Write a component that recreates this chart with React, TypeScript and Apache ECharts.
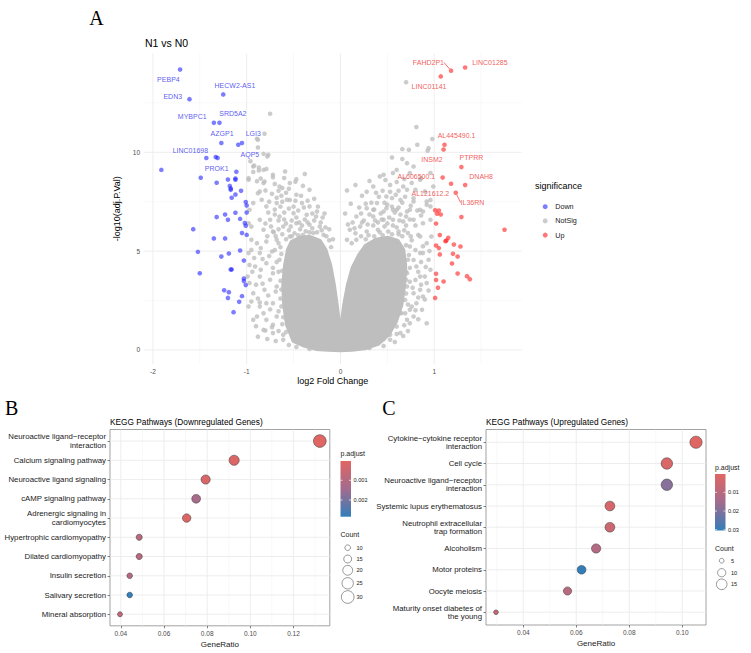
import React, { useEffect, useRef } from 'react';
import * as echarts from 'echarts';

const FONT = '"Liberation Sans", Arial, Helvetica, sans-serif';
const SERIF = '"Liberation Serif", "Times New Roman", serif';

// ---------------- Panel A : volcano ----------------
const downLabeledNames = ['PEBP4', 'EDN3', 'HECW2-AS1', 'MYBPC1', 'SRD5A2', 'AZGP1', 'LGI3', 'AQP5', 'LINC01698', 'PROK1'];
const downLabeledPoints: [number, number][] = [
  [-1.71, 14.19], [-1.61, 12.69], [-1.25, 12.93], [-1.35, 11.49], [-1.29, 11.49],
  [-1.27, 10.47], [-1.05, 10.47], [-1.09, 10.38], [-1.43, 9.71], [-1.33, 9.76],
];
const downOtherPoints: [number, number][] = [
  [-1.31, 9.71], [-1.91, 9.11], [-1.49, 8.71], [-1.32, 8.46], [-1.11, 9.01], [-1.20, 8.62], [-1.12, 8.67], [-1.12, 8.61],
  [-1.18, 8.30], [-1.17, 8.17], [-1.17, 8.10], [-1.06, 8.05], [-1.12, 7.86], [-1.16, 7.70], [-1.01, 7.48], [-1.00, 7.31],
  [-1.00, 6.95], [-1.12, 6.94], [-1.23, 6.85], [-1.32, 6.72], [-1.20, 6.58], [-1.07, 6.63], [-1.02, 6.42], [-1.01, 6.28],
  [-1.57, 6.11], [-1.05, 5.91], [-1.00, 5.82], [-1.35, 5.64], [-1.23, 5.64], [-1.07, 5.03], [-1.52, 4.96], [-1.19, 4.88],
  [-1.27, 4.72], [-1.03, 4.52], [-1.17, 4.07], [-1.16, 4.07], [-1.50, 3.88], [-1.03, 3.61], [-1.03, 3.48], [-1.01, 3.28],
  [-1.24, 3.02], [-1.19, 2.92], [-1.05, 2.72], [-1.20, 2.63], [-1.08, 2.43], [-1.14, 1.91],
];
const upLabeledNames = ['FAHD2P1', 'LINC01285', 'LINC01141', 'AL445490.1', 'INSM2', 'PTPRR', 'AL606500.1', 'DNAH8', 'AL121612.2', 'IL36RN'];
const upLabeledPoints: [number, number][] = [
  [1.18, 14.13], [1.33, 14.29], [1.07, 13.84], [1.11, 10.38], [1.10, 10.14],
  [1.29, 9.25], [1.09, 8.72], [1.33, 8.34], [1.18, 8.41], [1.23, 7.95],
];
const upOtherPoints: [number, number][] = [
  [1.01, 7.07], [1.05, 7.05], [1.03, 6.89], [1.07, 6.85], [1.29, 6.72], [1.75, 6.08], [1.02, 6.39], [1.06, 5.81],
  [1.15, 5.67], [1.13, 5.53], [1.12, 5.50], [1.21, 5.33], [1.28, 5.23], [1.02, 5.28], [1.05, 5.15], [1.06, 4.83],
  [1.20, 4.86], [1.25, 4.72], [1.19, 4.37], [1.25, 3.86], [1.02, 3.85], [1.35, 3.73], [1.38, 3.58], [1.02, 3.54],
  [1.10, 3.46], [1.04, 3.15], [1.01, 2.63],
];
const notSigPoints: [number, number][] = [
  [-0.81, 10.94], [-0.89, 10.68], [-0.77, 9.87], [-0.93, 9.28], [-0.87, 9.08], [-0.59, 9.03], [-0.72, 8.86], [-0.54, 8.44],
  [-0.33, 8.10], [-0.65, 8.27], [-0.81, 8.52], [-0.47, 7.85], [-0.63, 7.80], [-0.73, 7.90], [-0.86, 8.02], [-0.93, 7.43],
  [-0.79, 7.26], [-0.68, 7.43], [-0.54, 7.59], [-0.41, 7.43], [-0.33, 7.26], [-0.25, 7.00], [-0.36, 6.84], [-0.50, 6.92],
  [-0.65, 6.75], [-0.75, 6.58], [-0.86, 6.58], [-0.95, 6.24], [-0.82, 6.08], [-0.72, 5.99], [-0.61, 6.24], [-0.47, 6.41],
  [-0.33, 6.33], [-0.22, 6.24], [-0.18, 5.82], [-0.29, 5.91], [-0.40, 5.82], [-0.54, 5.74], [-0.68, 5.57], [-0.79, 5.48],
  [-0.89, 5.40], [-0.98, 4.90], [-0.86, 4.90], [-0.73, 4.98], [-0.65, 4.56], [-0.79, 4.39], [-0.91, 4.22], [-0.99, 3.71],
  [-0.86, 3.71], [-0.72, 3.88], [-0.68, 3.21], [-0.81, 3.04], [-0.93, 2.87], [-0.98, 2.19], [-0.86, 2.19], [-0.72, 2.36],
  [-0.93, 1.52], [-0.79, 1.52], [-0.68, 1.69], [-0.82, 1.01], [-0.72, 0.85], [-0.61, 0.51],
  [0.81, 11.28], [0.98, 10.67], [0.82, 10.38], [0.73, 10.13], [0.55, 9.74], [0.66, 9.66], [0.60, 9.11], [0.46, 8.86],
  [0.74, 8.95], [0.85, 8.61], [0.23, 7.80], [0.07, 8.07], [0.35, 8.27], [0.53, 8.35], [0.67, 8.27], [0.80, 8.10],
  [0.90, 8.02], [0.49, 7.76], [0.64, 7.59], [0.78, 7.51], [0.39, 7.43], [0.28, 7.17], [0.49, 7.17], [0.60, 7.09],
  [0.71, 7.00], [0.85, 7.09], [0.92, 7.34], [0.17, 6.75], [0.35, 6.75], [0.46, 6.58], [0.56, 6.58], [0.67, 6.50],
  [0.78, 6.58], [0.88, 6.41], [0.10, 6.08], [0.21, 6.24], [0.28, 5.99], [0.40, 6.08], [0.51, 5.99], [0.62, 5.99],
  [0.72, 5.91], [0.83, 5.82], [0.07, 5.57], [0.17, 5.57], [0.92, 5.40], [0.74, 5.23], [0.85, 4.90], [0.72, 4.56],
  [0.81, 4.22], [0.71, 3.88], [0.80, 3.54], [0.90, 3.71], [0.71, 3.21], [0.78, 2.87], [0.85, 3.04], [0.69, 2.53],
  [0.76, 2.19], [0.64, 1.86], [0.71, 1.52], [0.60, 1.18], [0.64, 0.85], [0.53, 0.51],
  [-0.96, 9.55], [-0.93, 9.00], [-0.82, 9.11], [-0.62, 8.19], [-0.98, 8.61], [-0.89, 8.54], [-0.82, 8.44], [-0.80, 8.07],
  [-0.48, 8.51], [-0.88, 7.93], [-0.97, 7.09], [-0.98, 6.41], [-0.95, 5.57], [-0.95, 5.06], [-0.97, 4.30], [-0.97, 3.38],
  [-0.88, 0.67], [-0.80, 0.98],
  [-0.75, 11.95], [-0.88, 10.63], [-0.88, 10.24], [-0.82, 9.92], [-0.78, 9.79], [-0.92, 9.33], [-0.87, 9.23], [-0.79, 9.16],
  [-0.98, 8.69], [-0.85, 8.67], [-0.72, 8.74], [-0.47, 8.64],
  [0.70, 13.55], [0.94, 10.21], [0.93, 10.08], [0.66, 10.16], [0.71, 9.45], [0.78, 9.28], [0.86, 8.69], [0.96, 8.95],
  [0.42, 8.78], [0.56, 8.95], [0.71, 8.10], [0.99, 8.27], [0.55, 7.68], [0.96, 7.59], [0.35, 7.09], [0.46, 7.00],
  [0.56, 7.09], [0.74, 7.09], [0.88, 7.00],
  [0.88, 4.90], [0.94, 4.56], [0.96, 4.05], [0.85, 3.71], [0.92, 3.38], [0.88, 2.70], [0.81, 2.36], [0.87, 2.03],
  [0.78, 1.69], [0.74, 1.35], [0.92, 1.35], [0.96, 6.58], [0.97, 5.74], [0.85, 5.74], [0.96, 7.26], [0.92, 7.51], [0.78, 7.68],
  [-0.89, 1.69], [-0.72, 1.27], [-0.61, 0.76], [-0.86, 2.40], [-0.79, 2.36], [0.65, 1.86], [0.74, 2.03], [0.46, 0.54],
  [0.53, 0.76], [0.35, 0.42], [-0.40, 0.34], [0.42, 0.67],
  [-0.62, 5.85], [-0.55, 6.05], [-0.49, 5.90], [-0.43, 6.10], [-0.37, 6.00], [-0.30, 6.15], [-0.25, 5.95], [-0.20, 6.05],
  [-0.15, 5.75], [-0.58, 6.40], [-0.52, 6.55], [-0.44, 6.45], [-0.38, 6.60], [-0.28, 6.55], [-0.21, 6.45], [-0.60, 6.95],
  [-0.55, 7.15], [-0.45, 7.05], [-0.39, 7.20], [-0.30, 6.90], [-0.70, 7.10], [-0.62, 7.50], [-0.48, 7.55], [-0.42, 7.80],
  [-0.58, 7.95], [-0.68, 7.70], [-0.74, 6.25], [-0.69, 5.75], [-0.66, 6.55], [-0.12, 5.55], [-0.10, 5.20],
  [-0.64, 5.20], [-0.70, 5.05], [-0.76, 4.75], [-0.68, 4.45], [-0.72, 4.15], [-0.66, 3.95], [-0.75, 3.55], [-0.64, 3.50],
  [-0.69, 2.95], [-0.77, 2.75], [-0.64, 2.60], [-0.75, 2.05], [-0.66, 1.95], [-0.62, 1.30], [-0.73, 1.15], [-0.66, 0.95],
  [-0.55, 0.25], [-0.83, 4.60], [-0.85, 4.05], [-0.90, 3.30], [-0.83, 3.35], [-0.88, 2.60], [-0.82, 1.85], [-0.90, 1.20],
  [-0.78, 0.55], [-0.69, 0.45], [-0.85, 5.15], [-0.78, 5.75], [-0.92, 4.65], [-0.95, 2.45], [-0.94, 3.95], [-0.63, 4.85],
  [-0.62, 4.00], [-0.63, 3.05], [-0.63, 2.20], [-0.61, 1.65], [-0.58, 0.90], [-0.47, 0.15], [-0.33, 0.05],
  [0.12, 5.40], [0.16, 5.90], [0.22, 5.75], [0.30, 5.80], [0.35, 6.30], [0.42, 5.95], [0.47, 6.25], [0.55, 5.85],
  [0.60, 6.20], [0.66, 5.75], [0.70, 6.30], [0.25, 6.55], [0.31, 6.85], [0.40, 6.45], [0.43, 6.90], [0.52, 6.70],
  [0.58, 6.95], [0.64, 6.85], [0.70, 6.75], [0.33, 7.45], [0.41, 7.75], [0.50, 7.35], [0.59, 7.85], [0.66, 7.45],
  [0.75, 7.30], [0.45, 8.05], [0.60, 8.50], [0.68, 8.65], [0.20, 7.20], [0.13, 6.45], [0.05, 6.90], [0.28, 8.00],
  [0.70, 5.30], [0.76, 5.55], [0.80, 5.05], [0.73, 4.80], [0.78, 4.55], [0.74, 4.15], [0.86, 4.45], [0.83, 3.95],
  [0.74, 3.45], [0.77, 3.15], [0.86, 3.30], [0.70, 2.85], [0.83, 2.65], [0.72, 2.30], [0.80, 2.00], [0.69, 1.85],
  [0.83, 1.55], [0.68, 1.25], [0.72, 0.95], [0.58, 0.40], [0.46, 0.20], [0.31, 0.10], [0.90, 2.55], [0.94, 3.00],
  [0.91, 4.20], [0.88, 5.25], [0.95, 5.00], [0.70, 3.95], [0.70, 3.55], [0.67, 0.70], [0.60, 0.80],
  [-0.66, 6.10], [-0.60, 6.60], [-0.53, 6.25], [-0.47, 6.70], [-0.41, 6.30], [-0.35, 6.45], [-0.26, 6.75], [-0.19, 6.70],
  [-0.16, 6.20], [-0.24, 7.25], [-0.35, 7.55], [-0.50, 7.25], [-0.57, 7.60], [-0.64, 7.25], [-0.70, 6.85], [-0.77, 6.95],
  [-0.76, 7.50], [-0.66, 8.05], [-0.55, 8.15], [-0.40, 8.30], [-0.28, 7.65], [-0.52, 5.75], [-0.45, 5.80], [-0.33, 5.95],
  [-0.58, 5.60], [-0.66, 5.40], [-0.71, 5.95], [-0.80, 6.40], [-0.84, 7.60], [-0.70, 8.40], [-0.60, 8.70], [-0.38, 8.90],
  [-0.17, 6.90], [-0.12, 6.10], [-0.08, 5.60],
  [0.15, 6.15], [0.23, 6.45], [0.29, 6.35], [0.37, 6.55], [0.44, 6.60], [0.50, 6.40], [0.56, 6.30], [0.63, 6.55],
  [0.68, 6.05], [0.74, 6.60], [0.80, 6.30], [0.75, 5.75], [0.62, 5.85], [0.45, 5.80], [0.36, 5.75], [0.27, 5.60],
  [0.22, 6.90], [0.27, 7.40], [0.36, 7.10], [0.47, 7.45], [0.55, 7.25], [0.62, 7.20], [0.69, 7.75], [0.53, 8.00],
  [0.38, 7.95], [0.31, 8.55], [0.48, 8.60], [0.62, 8.05], [0.76, 8.45], [0.82, 7.05], [0.86, 6.80], [0.11, 7.40],
  [0.16, 8.35], [0.08, 6.35],
];
// outline of the region where the grey points overlap completely
const notSigDenseOutline: [number, number][] = [
  [-0.50, 0.45], [-0.57, 1.27], [-0.60, 2.28], [-0.61, 3.29], [-0.59, 4.30], [-0.56, 5.06], [-0.52, 5.47], [-0.43, 5.67],
  [-0.33, 5.72], [-0.22, 5.52], [-0.16, 5.06], [-0.11, 4.30], [-0.07, 3.29], [-0.04, 2.28], [-0.02, 1.52], [0.00, 0.96],
  [0.02, 1.52], [0.04, 2.28], [0.08, 3.29], [0.13, 4.15], [0.20, 4.81], [0.27, 5.27], [0.38, 5.57], [0.51, 5.67],
  [0.61, 5.52], [0.67, 5.06], [0.69, 4.30], [0.68, 3.29], [0.65, 2.28], [0.59, 1.42], [0.51, 0.76], [0.40, 0.30],
  [0.26, 0.08], [0.12, 0.00], [0.00, -0.02], [-0.13, 0.00], [-0.26, 0.05], [-0.38, 0.20],
];
const volcanoXTicks = [-2, -1, 0, 1];
const volcanoXMinor = [-1.5, -0.5, 0.5, 1.5];
const volcanoYTicks = [0, 5, 10];
const volcanoYMinor = [2.5, 7.5, 12.5];

// ---------------- Panel B : KEGG down ----------------
const downTerms = [
  'Neuroactive ligand\u2212receptor\ninteraction', 'Calcium signaling pathway', 'Neuroactive ligand signaling',
  'cAMP signaling pathway', 'Adrenergic signaling in\ncardiomyocytes', 'Hypertrophic cardiomyopathy',
  'Dilated cardiomyopathy', 'Insulin secretion', 'Salivary secretion', 'Mineral absorption',
];
const downGeneRatio = [0.1322, 0.0925, 0.0793, 0.0749, 0.0705, 0.0485, 0.0485, 0.0441, 0.0441, 0.0396];
const downCount = [30, 21, 18, 17, 16, 11, 11, 10, 10, 9];
const downPadj = [0.00002, 0.0001, 0.0002, 0.0013, 0.0001, 0.0009, 0.0009, 0.001, 0.00285, 0.0007];
const downRatioTicks = [0.04, 0.06, 0.08, 0.1, 0.12];
const downRatioMinor = [0.05, 0.07, 0.09, 0.11, 0.13];
const downPadjBreaks = [0.001, 0.002];
const downCountBreaks = [10, 15, 20, 25, 30];

// ---------------- Panel C : KEGG up ----------------
const upTerms = [
  'Cytokine\u2212cytokine receptor\ninteraction', 'Cell cycle', 'Neuroactive ligand\u2212receptor\ninteraction',
  'Systemic lupus erythematosus', 'Neutrophil extracellular\ntrap formation', 'Alcoholism', 'Motor proteins',
  'Oocyte meiosis', 'Maturity onset diabetes of\nthe young',
];
const upGeneRatio = [0.1052, 0.0942, 0.0942, 0.0727, 0.0727, 0.0675, 0.062, 0.0567, 0.0297];
const upCount = [19, 17, 17, 13, 13, 12, 11, 10, 5];
const upPadj = [0.0002, 0.002, 0.019, 0.003, 0.005, 0.011, 0.0304, 0.010, 0.007];
const upRatioTicks = [0.04, 0.06, 0.08, 0.1];
const upRatioMinor = [0.03, 0.05, 0.07, 0.09];
const upPadjBreaks = [0.01, 0.02, 0.03];
const upCountBreaks = [5, 10, 15];

// ---------------- layout / style (not data) ----------------
const downLabelOffsets: [number, number][] = [
  [-11.7, 10], [-16.7, -2.3], [11.7, -9], [-21.6, -6], [13.4, -9], [0.7, -9.3], [11.3, -9.3], [11.7, 10], [-16, -7.3], [1, 11],
];
const upLabelOffsets: [number, number][] = [
  [-22.7, -8.3], [24.7, -5], [-11.7, 9.6], [12, -9], [-11.6, 9.6], [10, -10], [-26.3, -1], [16, -9], [-20.7, 10], [16.7, 9.7],
];
const leaderLineGenes = ['FAHD2P1', 'IL36RN'];
const GRAD = ['#e06663', '#a26b8e', '#327eba'];
const BLUE = 'rgba(30,30,255,0.72)';
const RED = 'rgba(255,20,20,0.72)';
const GREY = '#BEBEBE';

const expand = (vals: number[]) => {
  const mn = Math.min(...vals), mx = Math.max(...vals), s = mx - mn;
  return [mn - 0.05 * s, mx + 0.05 * s];
};
const sizeScale = (counts: number[], dMin: number, dMax: number) => {
  const cMin = Math.min(...counts), cMax = Math.max(...counts);
  return (c: number) => Math.sqrt(dMin * dMin + ((c - cMin) / (cMax - cMin)) * (dMax * dMax - dMin * dMin));
};

// gridlines drawn through the axes' own scales (custom series)
function gridSeries(xi: number, yi: number, xMajor: number[], xMinor: number[], yMajor: number[], yMinor: number[],
  xRef: number, yRef: number) {
  const data = [
    ...xMinor.map((v) => [v, yRef, 0]), ...yMinor.map((v) => [xRef, v, 2]),
    ...xMajor.map((v) => [v, yRef, 1]), ...yMajor.map((v) => [xRef, v, 3]),
  ];
  return {
    type: 'custom', xAxisIndex: xi, yAxisIndex: yi, z: 0, silent: true, clip: false, data,
    renderItem: (params: any, api: any) => {
      const kind = api.value(2);
      const cs = params.coordSys;
      const p = api.coord([api.value(0), api.value(1)]);
      const style = kind % 2 === 1 ? { stroke: '#EBEBEB', lineWidth: 0.9 } : { stroke: '#F3F3F3', lineWidth: 0.6 };
      const shape = kind < 2
        ? { x1: p[0], y1: cs.y, x2: p[0], y2: cs.y + cs.height }
        : { x1: cs.x, y1: p[1], x2: cs.x + cs.width, y2: p[1] };
      return { type: 'line', shape, style };
    },
  };
}

function pointSeries(name: string, labeledNames: string[], labeled: [number, number][], others: [number, number][],
  offsets: [number, number][], color: string, textColor: string) {
  return {
    name, type: 'scatter', xAxisIndex: 0, yAxisIndex: 0, z: 4, symbolSize: 4.6,
    itemStyle: { color },
    emphasis: { disabled: true },
    label: { show: false, position: 'inside', formatter: '{b}', fontSize: 7, fontFamily: FONT, color: textColor },
    labelLayout: (p: any) => {
      const o = offsets[p.dataIndex];
      return o ? { dx: o[0], dy: o[1] } : {};
    },
    data: [
      ...labeled.map((v, i) => ({
        value: v, name: labeledNames[i], label: { show: true },
        labelLine: leaderLineGenes.includes(labeledNames[i])
          ? { show: true, length2: 0, lineStyle: { color: textColor, width: 0.7 } } : { show: false },
      })),
      ...others.map((v) => ({ value: v })),
    ],
  };
}

function padjLegend(o: {
  left: number; titleY: number; barTop: number; barH: number; barW: number; min: number; max: number;
  breaks: number[]; fmt: (v: number) => string; countTitleY: number; rows: number[]; countBreaks: number[];
  size: (c: number) => number; circleX: number; countLabelX: number;
}) {
  const els: any[] = [];
  const txt = (x: number, y: number, text: string, size: number) => ({
    type: 'text', x, y, silent: true,
    style: { text, fontSize: size, fontFamily: FONT, fill: '#1A1A1A', align: 'left', verticalAlign: 'middle' },
  });
  els.push(txt(o.left, o.titleY, 'p.adjust', 7));
  els.push({
    type: 'rect', silent: true, shape: { x: o.left, y: o.barTop, width: o.barW, height: o.barH },
    style: {
      fill: new echarts.graphic.LinearGradient(0, 0, 0, 1, [
        { offset: 0, color: GRAD[0] }, { offset: 0.5, color: GRAD[1] }, { offset: 1, color: GRAD[2] },
      ]),
    },
  });
  o.breaks.forEach((b) => {
    const y = o.barTop + ((b - o.min) / (o.max - o.min)) * o.barH;
    els.push({ type: 'line', silent: true, shape: { x1: o.left, y1: y, x2: o.left + 2, y2: y }, style: { stroke: '#fff', lineWidth: 0.7 } });
    els.push({ type: 'line', silent: true, shape: { x1: o.left + o.barW - 2, y1: y, x2: o.left + o.barW, y2: y }, style: { stroke: '#fff', lineWidth: 0.7 } });
    els.push(txt(o.left + o.barW + 2.5, y, o.fmt(b), 5.6));
  });
  els.push(txt(o.left, o.countTitleY, 'Count', 7));
  o.countBreaks.forEach((c, i) => {
    els.push({
      type: 'circle', silent: true, shape: { cx: o.circleX, cy: o.rows[i], r: o.size(c) / 2 },
      style: { fill: '#fff', stroke: '#333', lineWidth: 0.5 },
    });
    els.push(txt(o.countLabelX, o.rows[i], String(c), 5.6));
  });
  return els;
}

function keggAxes(gridIndex: number, range: number[], ticks: number[], terms: string[]) {
  const n = terms.length;
  const idx = terms.map((_, i) => i);
  const x = {
    type: 'value', gridIndex, min: range[0], max: range[1], position: 'bottom',
    splitLine: { show: false }, axisLine: { show: false, onZero: false },
    axisTick: { show: true, customValues: ticks, length: 2.5, lineStyle: { color: '#333', width: 0.6 } },
    axisLabel: { customValues: ticks, formatter: (v: number) => v.toFixed(2), fontSize: 6.5, color: '#4D4D4D', fontFamily: FONT, margin: 4 },
    name: 'GeneRatio', nameLocation: 'middle', nameGap: 14.5,
    nameTextStyle: { fontSize: 8, color: '#1A1A1A', fontFamily: FONT },
  };
  const y = {
    type: 'value', gridIndex, min: -0.6, max: n - 0.4, inverse: true, position: 'left',
    splitLine: { show: false }, axisLine: { show: false, onZero: false },
    axisTick: { show: true, customValues: idx, length: 2.5, lineStyle: { color: '#333', width: 0.6 } },
    axisLabel: {
      customValues: idx, formatter: (v: number) => terms[Math.round(v)] ?? '',
      fontSize: 7.8, lineHeight: 8.3, color: '#1A1A1A', fontFamily: FONT, margin: 4, align: 'right',
    },
  };
  return { x, y };
}

export default function App() {
  const ref = useRef<HTMLDivElement>(null);
  useEffect(() => {
    document.body.style.margin = '0';
    if (!ref.current) return;
    const chart = echarts.init(ref.current, undefined, { renderer: 'svg' });

    const rangeB = expand(downGeneRatio);
    const rangeC = expand(upGeneRatio);
    const sizeB = sizeScale(downCount, 5, 12.7);
    const sizeC = sizeScale(upCount, 4.7, 12.2);
    const axB = keggAxes(1, rangeB, downRatioTicks, downTerms);
    const axC = keggAxes(2, rangeC, upRatioTicks, upTerms);
    const bIdx = downTerms.map((_, i) => i);
    const cIdx = upTerms.map((_, i) => i);

    const text = (x: number, y: number, t: string, size: number, align = 'left', font = FONT, color = '#000') => ({
      type: 'text', x, y, silent: true,
      style: { text: t, fontSize: size, fontFamily: font, fill: color, align, verticalAlign: 'middle' },
    });

    const option: any = {
      animation: false,
      backgroundColor: '#fff',
      textStyle: { fontFamily: FONT },
      grid: [
        { left: 144, top: 53.5, width: 377.5, height: 310.5 },
        { left: 110, top: 429.5, width: 219.8, height: 196.3, show: true, borderColor: '#8a8a8a', borderWidth: 0.8 },
        { left: 486, top: 429.5, width: 220, height: 195.5, show: true, borderColor: '#8a8a8a', borderWidth: 0.8 },
      ],
      xAxis: [
        {
          type: 'value', gridIndex: 0, min: -2.095, max: 1.931, position: 'bottom',
          splitLine: { show: false }, axisLine: { show: false, onZero: false }, axisTick: { show: false },
          axisLabel: { customValues: volcanoXTicks, fontSize: 6.5, color: '#4D4D4D', fontFamily: FONT, margin: 4 },
          name: 'log2 Fold Change', nameLocation: 'middle', nameGap: 12.5,
          nameTextStyle: { fontSize: 9, color: '#000', fontFamily: FONT },
        },
        axB.x, axC.x,
      ],
      yAxis: [
        {
          type: 'value', gridIndex: 0, min: -0.715, max: 15.0, position: 'left',
          splitLine: { show: false }, axisLine: { show: false, onZero: false }, axisTick: { show: false },
          axisLabel: { customValues: volcanoYTicks, fontSize: 6.5, color: '#4D4D4D', fontFamily: FONT, margin: 4 },
          name: '-log10(adj.P.Val)', nameLocation: 'middle', nameRotate: 90, nameGap: 7,
          nameTextStyle: { fontSize: 9, color: '#000', fontFamily: FONT },
        },
        axB.y, axC.y,
      ],
      legend: {
        data: ['Down', 'NotSig', 'Up'], orient: 'vertical', left: 537.7, top: 197.2,
        icon: 'circle', itemWidth: 10, itemHeight: 5, itemGap: 5.2, selectedMode: false,
        textStyle: { fontSize: 7.2, color: '#1A1A1A', fontFamily: FONT, lineHeight: 9 },
      },
      visualMap: [
        { show: false, type: 'continuous', seriesIndex: 4, dimension: 3, min: Math.min(...downPadj), max: Math.max(...downPadj), inRange: { color: GRAD } },
        { show: false, type: 'continuous', seriesIndex: 5, dimension: 3, min: Math.min(...upPadj), max: Math.max(...upPadj), inRange: { color: GRAD } },
      ],
      series: [
        {
          name: 'dense', type: 'custom', xAxisIndex: 0, yAxisIndex: 0, z: 1, silent: true,
          data: notSigDenseOutline,
          renderItem: (params: any, api: any) => {
            if (params.dataIndex !== 0) return null;
            const pts = notSigDenseOutline.map((p) => api.coord(p));
            return {
              type: 'polygon', shape: { points: pts },
              style: { fill: GREY, stroke: GREY, lineWidth: 4, lineJoin: 'round' },
            };
          },
        },
        {
          name: 'NotSig', type: 'scatter', xAxisIndex: 0, yAxisIndex: 0, z: 2, symbolSize: 4.6,
          itemStyle: { color: GREY, opacity: 0.78 }, emphasis: { disabled: true }, silent: true,
          data: notSigPoints,
        },
        pointSeries('Down', downLabeledNames, downLabeledPoints, downOtherPoints, downLabelOffsets, BLUE, '#3030F0'),
        pointSeries('Up', upLabeledNames, upLabeledPoints, upOtherPoints, upLabelOffsets, RED, '#F03030'),
        {
          name: 'keggDown', type: 'scatter', xAxisIndex: 1, yAxisIndex: 1, z: 3, silent: true,
          data: downGeneRatio.map((r, i) => [r, i, downCount[i], downPadj[i]]),
          symbolSize: (v: number[]) => sizeB(v[2]),
          itemStyle: { borderColor: '#333', borderWidth: 0.5, opacity: 1 },
        },
        {
          name: 'keggUp', type: 'scatter', xAxisIndex: 2, yAxisIndex: 2, z: 3, silent: true,
          data: upGeneRatio.map((r, i) => [r, i, upCount[i], upPadj[i]]),
          symbolSize: (v: number[]) => sizeC(v[2]),
          itemStyle: { borderColor: '#333', borderWidth: 0.5, opacity: 1 },
        },
        gridSeries(0, 0, volcanoXTicks, volcanoXMinor, volcanoYTicks, volcanoYMinor, 0, 5),
        gridSeries(1, 1, downRatioTicks, downRatioMinor, bIdx, [], downRatioTicks[0], 0),
        gridSeries(2, 2, upRatioTicks, upRatioMinor, cIdx, [], upRatioTicks[0], 0),
      ],
      graphic: [
        text(96.5, 17.5, 'A', 20, 'center', SERIF),
        text(11.7, 408.3, 'B', 20, 'center', SERIF),
        text(389, 408.3, 'C', 20, 'center', SERIF),
        text(145, 43.3, 'N1 vs N0', 10.5),
        text(535, 185.7, 'significance', 9),
        text(110, 421.7, 'KEGG Pathways (Downregulated Genes)', 8.3),
        text(486, 421.7, 'KEGG Pathways (Upregulated Genes)', 8.3),
        ...padjLegend({
          left: 340.5, titleY: 453.3, barTop: 461, barH: 55.7, barW: 10.5,
          min: Math.min(...downPadj), max: Math.max(...downPadj), breaks: downPadjBreaks, fmt: (v) => v.toFixed(3),
          countTitleY: 534.7, rows: [547.7, 559, 570.3, 583.3, 597], countBreaks: downCountBreaks, size: sizeB,
          circleX: 347.7, countLabelX: 356.5,
        }),
        ...padjLegend({
          left: 715, titleY: 467.7, barTop: 474, barH: 56.5, barW: 10.5,
          min: Math.min(...upPadj), max: Math.max(...upPadj), breaks: upPadjBreaks, fmt: (v) => v.toFixed(2),
          countTitleY: 548.7, rows: [560.7, 572.7, 584.3], countBreaks: upCountBreaks, size: sizeC,
          circleX: 721.7, countLabelX: 731,
        }),
      ],
    };
    chart.setOption(option);
    return () => chart.dispose();
  }, []);
  return <div ref={ref} style={{ width: 751, height: 653 }} />;
}
